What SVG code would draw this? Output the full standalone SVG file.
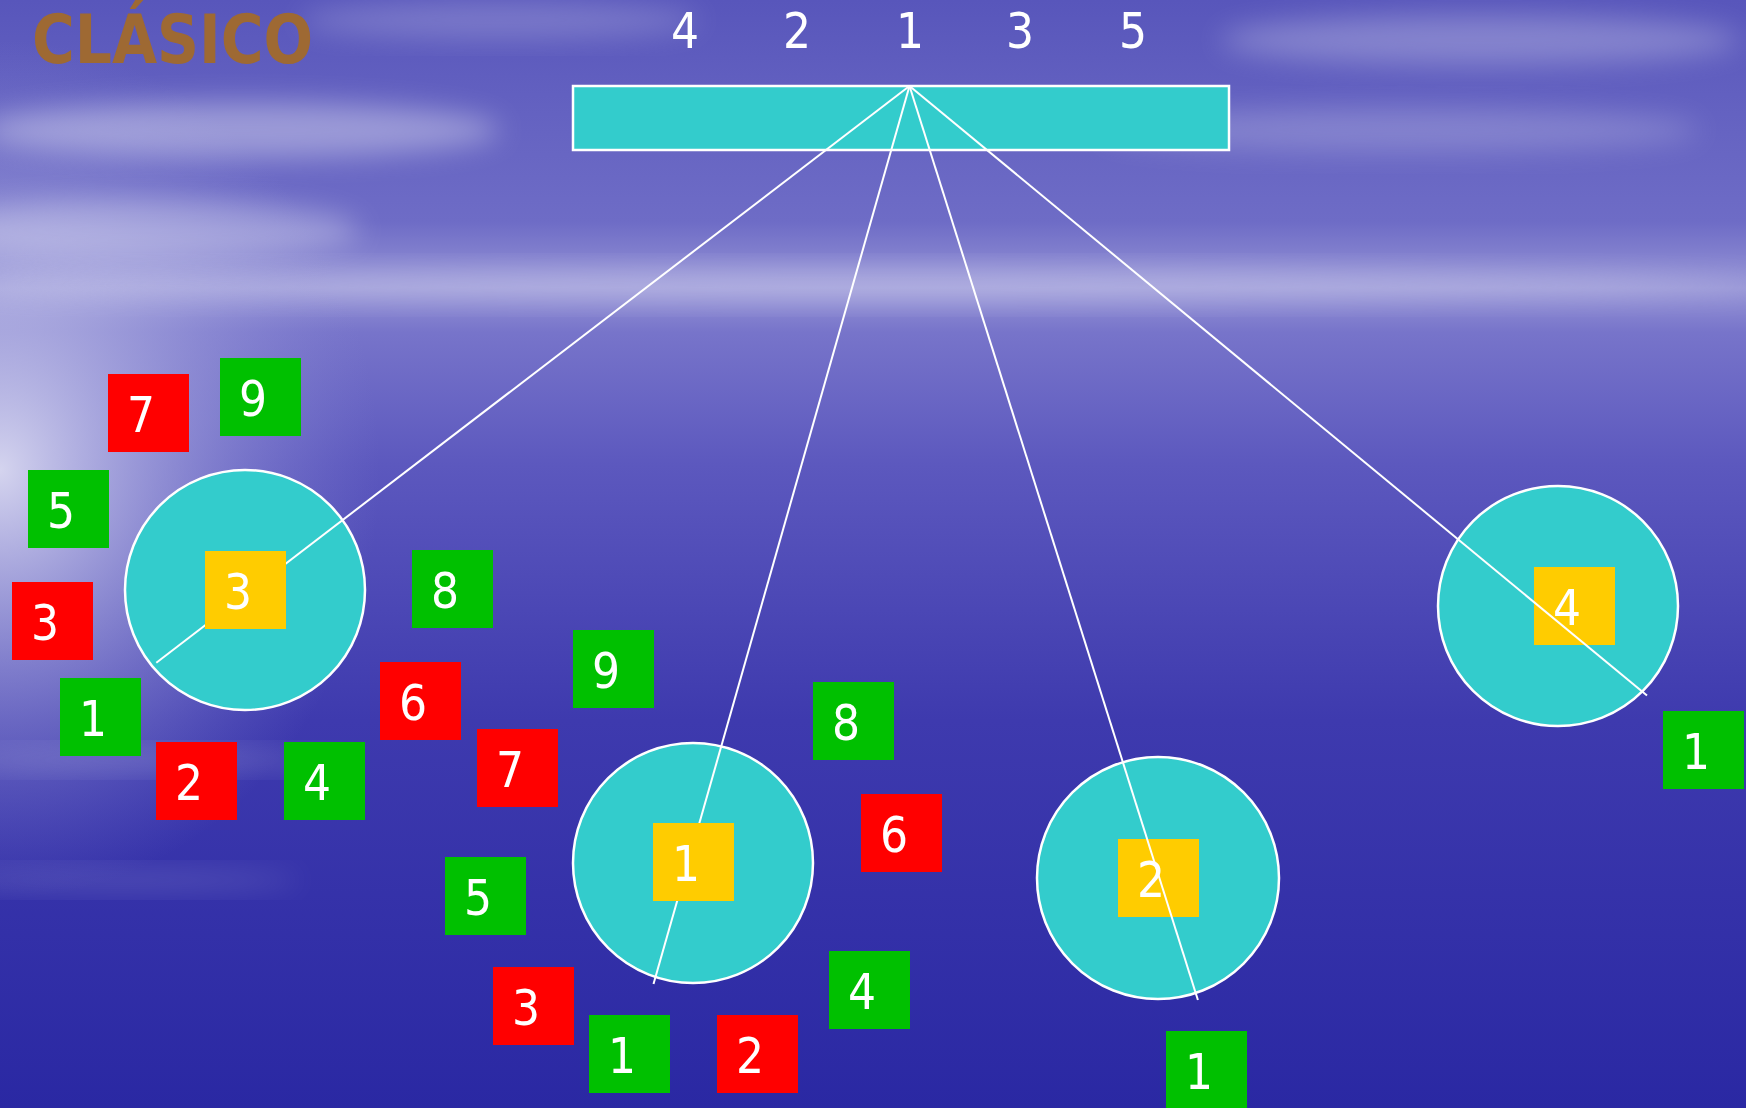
<svg xmlns="http://www.w3.org/2000/svg" width="1746" height="1108" viewBox="0 0 1746 1108">
<defs>
<linearGradient id="sky" x1="0" y1="0" x2="0" y2="1">
<stop offset="0" stop-color="#5856BB"/>
<stop offset="0.12" stop-color="#6664C2"/>
<stop offset="0.2" stop-color="#6E6CC6"/>
<stop offset="0.26" stop-color="#9694D6"/>
<stop offset="0.3" stop-color="#7774CA"/>
<stop offset="0.42" stop-color="#5C58BE"/>
<stop offset="0.65" stop-color="#3E3AAE"/>
<stop offset="1" stop-color="#2A28A3"/>
</linearGradient>
<radialGradient id="glow" gradientUnits="userSpaceOnUse" cx="0" cy="0" r="1" gradientTransform="translate(0 470) scale(380 430)">
<stop offset="0" stop-color="#E2E2F4" stop-opacity="0.9"/>
<stop offset="0.4" stop-color="#C0C0E8" stop-opacity="0.55"/>
<stop offset="1" stop-color="#9090D8" stop-opacity="0"/>
</radialGradient>
<filter id="blur" x="-20%" y="-50%" width="140%" height="200%">
<feGaussianBlur stdDeviation="14"/>
</filter>
<style>
.num{font-family:"DejaVu Sans Condensed","DejaVu Sans","Liberation Sans",sans-serif;font-stretch:condensed;font-size:49px;fill:#fff;text-anchor:middle}
.red{fill:#FF0000}
.grn{fill:#00C000}
.yel{fill:#FFCC00}
.cir{fill:#33CCCC;stroke:#fff;stroke-width:2.5}
.con{stroke:#fff;stroke-width:2;fill:none}
.cloud{fill:#fff;filter:url(#blur)}
</style>
</defs>
<g id="background">
<rect width="1746" height="1108" fill="url(#sky)"/>
<rect width="1746" height="1108" fill="url(#glow)"/>
<ellipse class="cloud" cx="240" cy="130" rx="260" ry="28" opacity="0.35"/>
<ellipse class="cloud" cx="140" cy="230" rx="220" ry="30" opacity="0.3"/>
<ellipse class="cloud" cx="1480" cy="40" rx="260" ry="25" opacity="0.25"/>
<ellipse class="cloud" cx="1400" cy="130" rx="300" ry="22" opacity="0.2"/>
<ellipse class="cloud" cx="500" cy="20" rx="200" ry="18" opacity="0.2"/>
<ellipse class="cloud" cx="873" cy="285" rx="900" ry="16" opacity="0.28"/>
<ellipse class="cloud" cx="150" cy="760" rx="200" ry="10" opacity="0.18"/>
<ellipse class="cloud" cx="120" cy="880" rx="180" ry="10" opacity="0.15"/>
</g>
<text id="title" x="32" y="63" font-family="DejaVu Sans,Liberation Sans,sans-serif" font-weight="bold" font-size="68" fill="#9E6933" textLength="281" lengthAdjust="spacingAndGlyphs">CLÁSICO</text>
<g id="order">
<text class="num" x="685" y="48">4</text>
<text class="num" x="797" y="48">2</text>
<text class="num" x="910" y="48">1</text>
<text class="num" x="1020" y="48">3</text>
<text class="num" x="1133" y="48">5</text>
</g>
<g id="bar"><rect x="573" y="86" width="656" height="64" fill="#33CCCC" stroke="#fff" stroke-width="2.5"/></g>
<g id="circle3"><circle class="cir" cx="245" cy="590" r="120"/></g>
<g id="circle1"><circle class="cir" cx="693" cy="863" r="120"/></g>
<g id="circle2"><circle class="cir" cx="1158" cy="878" r="121"/></g>
<g id="circle4"><circle class="cir" cx="1558" cy="606" r="120"/></g>
<g id="center2"><rect class="yel" x="1118" y="839" width="81" height="78"/><text class="num" x="1151" y="897">2</text></g>
<g id="center4"><rect class="yel" x="1534" y="567" width="81" height="78"/><text class="num" x="1567" y="625">4</text></g>
<g id="connectors">
<line class="con" x1="909.5" y1="86" x2="156.3" y2="662.7"/>
<line class="con" x1="909.5" y1="86" x2="653.5" y2="984"/>
<line class="con" x1="909.5" y1="86" x2="1197.9" y2="1000"/>
<line class="con" x1="909.5" y1="86" x2="1647" y2="695.5"/>
</g>
<g id="center3"><rect class="yel" x="205" y="551" width="81" height="78"/><text class="num" x="238" y="609">3</text></g>
<g id="center1"><rect class="yel" x="653" y="823" width="81" height="78"/><text class="num" x="686" y="881">1</text></g>
<g id="a7"><rect class="red" x="108" y="374" width="81" height="78"/><text class="num" x="141" y="432">7</text></g>
<g id="a9"><rect class="grn" x="220" y="358" width="81" height="78"/><text class="num" x="253" y="416">9</text></g>
<g id="a5"><rect class="grn" x="28" y="470" width="81" height="78"/><text class="num" x="61" y="528">5</text></g>
<g id="a3"><rect class="red" x="12" y="582" width="81" height="78"/><text class="num" x="45" y="640">3</text></g>
<g id="a1"><rect class="grn" x="60" y="678" width="81" height="78"/><text class="num" x="93" y="736">1</text></g>
<g id="a2"><rect class="red" x="156" y="742" width="81" height="78"/><text class="num" x="189" y="800">2</text></g>
<g id="a4"><rect class="grn" x="284" y="742" width="81" height="78"/><text class="num" x="317" y="800">4</text></g>
<g id="a8"><rect class="grn" x="412" y="550" width="81" height="78"/><text class="num" x="445" y="608">8</text></g>
<g id="a6"><rect class="red" x="380" y="662" width="81" height="78"/><text class="num" x="413" y="720">6</text></g>
<g id="b7"><rect class="red" x="477" y="729" width="81" height="78"/><text class="num" x="510" y="787">7</text></g>
<g id="b9"><rect class="grn" x="573" y="630" width="81" height="78"/><text class="num" x="606" y="688">9</text></g>
<g id="b8"><rect class="grn" x="813" y="682" width="81" height="78"/><text class="num" x="846" y="740">8</text></g>
<g id="b6"><rect class="red" x="861" y="794" width="81" height="78"/><text class="num" x="894" y="852">6</text></g>
<g id="b5"><rect class="grn" x="445" y="857" width="81" height="78"/><text class="num" x="478" y="915">5</text></g>
<g id="b3"><rect class="red" x="493" y="967" width="81" height="78"/><text class="num" x="526" y="1025">3</text></g>
<g id="b1"><rect class="grn" x="589" y="1015" width="81" height="78"/><text class="num" x="622" y="1073">1</text></g>
<g id="b2"><rect class="red" x="717" y="1015" width="81" height="78"/><text class="num" x="750" y="1073">2</text></g>
<g id="b4"><rect class="grn" x="829" y="951" width="81" height="78"/><text class="num" x="862" y="1009">4</text></g>
<g id="c1"><rect class="grn" x="1166" y="1031" width="81" height="78"/><text class="num" x="1199" y="1089">1</text></g>
<g id="d1"><rect class="grn" x="1663" y="711" width="81" height="78"/><text class="num" x="1696" y="769">1</text></g>
</svg>
